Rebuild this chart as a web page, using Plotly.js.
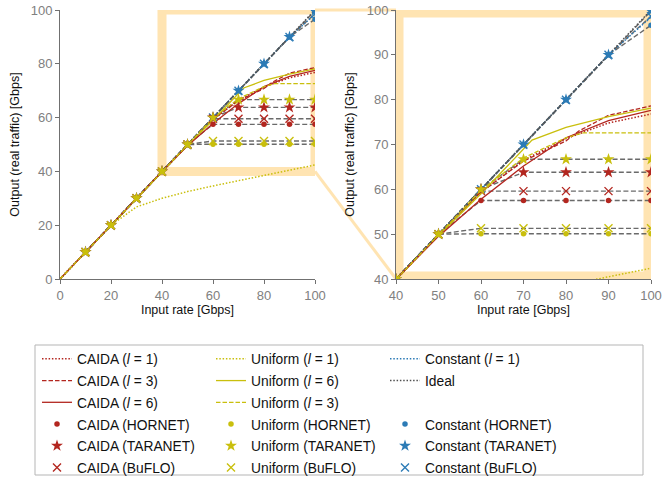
<!DOCTYPE html>
<html><head><meta charset="utf-8">
<script src="https://cdn.plot.ly/plotly-3.0.1.min.js"></script>
<style>html,body{margin:0;padding:0;background:#fff}#chart{width:662px;height:482px}</style>
</head><body><div id="chart"></div>
<script>
// ---------- data ----------
const caidaL1X = [0,10,20,30,40,50,60,70,80,90,100];
const caidaL1Y = [0,10,20,30,40,49.8,59.3,66.5,71.3,74.8,76.8];
const caidaL3X = [0,10,20,30,40,50,60,70,80,83,90,100];
const caidaL3Y = [0,10,20,30,40,49.8,59.4,66.3,70.8,73.0,76.5,78.6];
const caidaL6X = [0,10,20,30,40,50,60,70,80,90,100];
const caidaL6Y = [0,10,20,30,40,49.5,57.8,65.2,71.5,75.3,77.6];

const uniL1X = [0,10,20,25,30,40,50,60,70,80,90,100];
const uniL1Y = [0,10,20,23.4,26.8,30.0,32.5,34.6,36.6,38.5,40.5,42.4];
const uniL6X = [0,10,20,30,40,50,60,70,72,80,90,100];
const uniL6Y = [0,10,20,30,40,49.7,59.0,69.0,71.0,73.8,76.2,78.1];
const uniL3X = [0,10,20,30,40,50,60,70,80,84,90,100];
const uniL3Y = [0,10,20,30,40,49.9,59.8,67.0,71.5,72.6,72.6,72.6];

const constL1X = [0,10,20,30,40,50,60,70,80,90,100];
const constL1Y = [0,10,20,30,40,50,60,70,80,90,98.4];

const idealX = [0,100];
const idealY = [0,100];

const markerX = [10,20,30,40,50,60,70,80,90,100];
const caidaHornet  = [10,20,30,40,50,57.5,57.5,57.5,57.5,57.5];
const caidaTaranet = [10,20,30,40,50,60,63.8,63.8,63.8,63.8];
const caidaBuflo   = [10,20,30,40,50,59.6,59.6,59.6,59.6,59.6];
const uniHornet    = [10,20,30,40,50,50.1,50.1,50.1,50.1,50.1];
const uniTaranet   = [10,20,30,40,50,60,66.7,66.7,66.7,66.7];
const uniBuflo     = [10,20,30,40,50,51.3,51.3,51.3,51.3,51.3];
const constHornet  = [10,20,30,40,50,60,70,80,90,96.6];
const constTaranet = [10,20,30,40,50,60,70,80,90,99.8];
const constBuflo   = [10,20,30,40,50,60,70,80,90,98.6];

const leftTicks = [0,20,40,60,80,100];
const rightTicks = [40,50,60,70,80,90,100];

// ---------- styling ----------
const RED = '#b3261f', YEL = '#c9bf0d', BLUE = '#2c7bb6', GRAY = '#5a5a5a';
const LFS = 13.8;
function nm(t){ return '<span style="font-size:'+LFS+'px">'+t+'</span>'; }
const DOT = '1.5px,1.8px', DASH = '4.5px,2px';

const lineSeries = [
  {name:'CAIDA (<i>l</i> = 1)', x:caidaL1X, y:caidaL1Y, color:RED, dash:DOT, rank:1},
  {name:'Uniform (<i>l</i> = 1)', x:uniL1X, y:uniL1Y, color:YEL, dash:DOT, rank:2},
  {name:'Constant (<i>l</i> = 1)', x:constL1X, y:constL1Y, color:BLUE, dash:DOT, rank:3},
  {name:'CAIDA (<i>l</i> = 3)', x:caidaL3X, y:caidaL3Y, color:RED, dash:DASH, rank:4},
  {name:'Uniform (<i>l</i> = 6)', x:uniL6X, y:uniL6Y, color:YEL, dash:'solid', rank:5},
  {name:'Ideal', x:idealX, y:idealY, color:'#505050', dash:DOT, rank:6},
  {name:'CAIDA (<i>l</i> = 6)', x:caidaL6X, y:caidaL6Y, color:RED, dash:'solid', rank:7},
  {name:'Uniform (<i>l</i> = 3)', x:uniL3X, y:uniL3Y, color:YEL, dash:DASH, rank:8}
];
// draw order: Constant, CAIDA, Uniform (Uniform on top)
const markerSeries = [
  {name:'Constant (HORNET)', y:constHornet, color:BLUE, sym:'circle', size:5.5, rank:12},
  {name:'Constant (TARANET)', y:constTaranet, color:BLUE, sym:'star', size:9, rank:15},
  {name:'Constant (BuFLO)', y:constBuflo, color:BLUE, sym:'x-thin', size:8, rank:18},
  {name:'CAIDA (HORNET)', y:caidaHornet, color:RED, sym:'circle', size:5.5, rank:10},
  {name:'CAIDA (TARANET)', y:caidaTaranet, color:RED, sym:'star', size:9, rank:13},
  {name:'CAIDA (BuFLO)', y:caidaBuflo, color:RED, sym:'x-thin', size:8, rank:16},
  {name:'Uniform (HORNET)', y:uniHornet, color:YEL, sym:'circle', size:5.5, rank:11},
  {name:'Uniform (TARANET)', y:uniTaranet, color:YEL, sym:'star', size:9, rank:14},
  {name:'Uniform (BuFLO)', y:uniBuflo, color:YEL, sym:'x-thin', size:8, rank:17}
];

const traces = [];
[['x','y',true],['x2','y2',false]].forEach(([xa,ya,leg])=>{
  markerSeries.forEach(s=>{
    traces.push({type:'scatter', mode:'lines', x:markerX, y:s.y, xaxis:xa, yaxis:ya,
      line:{color:GRAY, dash:'5px,2.5px', width:1.4}, opacity:0.9, showlegend:false, hoverinfo:'skip'});
  });
  lineSeries.forEach(s=>{
    traces.push({type:'scatter', mode:'lines', x:s.x, y:s.y, xaxis:xa, yaxis:ya,
      name:nm(s.name), legendrank:s.rank, showlegend:leg,
      line:{color:s.color, dash:s.dash, width:s.dash===DOT?1.5:1.3}});
  });
  markerSeries.forEach(s=>{
    const isX = s.sym==='x-thin';
    traces.push({type:'scatter', mode:'markers', x:markerX, y:s.y, xaxis:xa, yaxis:ya,
      name:nm(s.name), legendrank:s.rank, showlegend:leg,
      marker:{color:s.color, symbol:s.sym, size:s.size,
        line:{color:s.color, width:isX?1.4:0}}});
  });
});
// empty legend cell (spacer)
traces.push({type:'scatter', mode:'lines', x:[null], y:[null], name:' ', legendrank:9,
  line:{width:0, color:'rgba(0,0,0,0)'}, showlegend:true, hoverinfo:'skip'});

// ---------- layout ----------
const W = 662, H = 482;
const px = v => v/W, py = v => 1 - v/H;
const xL = [px(60), px(315)], xR = [px(396), px(651)], yD = [py(279), py(10)];
const ORANGE = '#ffe4b2';
const FONT = 'Liberation Sans, Arial, sans-serif';

function axis(domain, range, ticks, anchor, title, standoff){
  return {domain:domain, range:range, tickvals:ticks, anchor:anchor,
    showgrid:false, zeroline:false, showline:true, linecolor:'#707070', linewidth:1,
    ticks:'outside', ticklen:4, tickcolor:'#707070', tickwidth:1,
    tickfont:{family:FONT, size:13, color:'#808080'},
    title:{text:title, font:{family:FONT, size:12.5, color:'#111'}, standoff:standoff},
    automargin:false, fixedrange:true};
}

const yLeft40 = yD[0] + (yD[1]-yD[0])*0.4;

const layout = {
  width:W, height:H, margin:{l:0,r:0,t:0,b:0,autoexpand:false},
  paper_bgcolor:'#fff', plot_bgcolor:'#fff',
  font:{family:FONT},
  xaxis: axis(xL,[0,100],leftTicks,'y','Input rate [Gbps]',0),
  yaxis: axis(yD,[0,100],leftTicks,'x','Output (real traffic) [Gbps]',8),
  xaxis2: axis(xR,[40,100],rightTicks,'y2','Input rate [Gbps]',0),
  yaxis2: axis(yD,[40,100],rightTicks,'x2','Output (real traffic) [Gbps]',9),
  showlegend:true,
  legend:{orientation:'h', x:px(37), xanchor:'left', y:py(343), yanchor:'top',
    entrywidth:129, entrywidthmode:'pixels', traceorder:'normal',
    font:{family:FONT, size:14.4, color:'#111'}, bgcolor:'rgba(0,0,0,0)', borderwidth:0,
    itemwidth:30},
  shapes:[
    {type:'rect', xref:'x', yref:'y', x0:40, x1:100, y0:40, y1:100,
      line:{color:ORANGE, width:9}, fillcolor:'rgba(0,0,0,0)', layer:'below'},
    {type:'rect', xref:'x2', yref:'y2', x0:40, x1:100, y0:40, y1:100,
      line:{color:ORANGE, width:15}, fillcolor:'rgba(0,0,0,0)', layer:'below'},
    {type:'line', xref:'paper', yref:'paper', x0:xL[1], y0:yD[1], x1:xR[0], y1:yD[1],
      line:{color:ORANGE, width:3}, layer:'below'},
    {type:'line', xref:'paper', yref:'paper', x0:xL[1], y0:yLeft40, x1:xR[0], y1:yD[0],
      line:{color:ORANGE, width:3}, layer:'below'},
    {type:'rect', xref:'paper', yref:'paper', x0:px(35), x1:px(643), y0:py(475), y1:py(345),
      line:{color:'#b5b5b5', width:1}, fillcolor:'#fff', layer:'below'}
  ]
};

Plotly.newPlot('chart', traces, layout, {staticPlot:true, displayModeBar:false});
</script>
</body></html>
